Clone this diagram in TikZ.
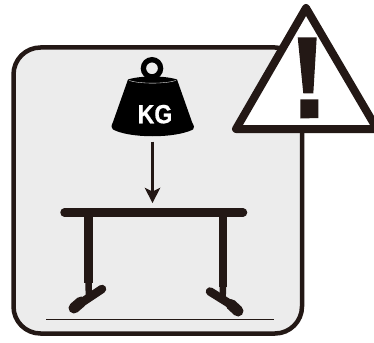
\documentclass[tikz,border=0pt]{standalone}
\usepackage{fontspec}
\setmainfont{Liberation Sans}
\newfontface\kgfont[FakeBold=0.7]{Liberation Sans Bold}
\definecolor{ink}{HTML}{231815}
\definecolor{panel}{HTML}{ECECEC}
\tikzset{
  panelbox/.style={draw=ink,fill=panel,line width=4.5pt,rounded corners=27pt},
  tablepart/.style={draw=ink,line cap=round,line width=8pt},
  legpart/.style={draw=ink,line width=8.5pt},
  warnbox/.style={draw=ink,fill=white,line width=8pt,line join=round},
  inkfill/.style={fill=ink,draw=none},
  weightlabel/.style={text=white,font=\kgfont\fontsize{22}{22}\selectfont,inner sep=0pt}
}
\begin{document}
\begin{tikzpicture}[x=1pt,y=-1pt]
\useasboundingbox (0,0) rectangle (374,342);
\clip (0,0) rectangle (374,342);
\fill[white] (0,0) rectangle (374,342);
\draw[panelbox] (13.5,47.5) rectangle (302,333.5);
% table
\draw[legpart] (88.5,212) -- (88.5,283);
\draw[legpart,line width=6.5pt] (88.5,283) -- (89,298);
\draw[legpart] (223,212) -- (223,287);
\draw[legpart,line width=6.5pt] (223,287) -- (222.5,301);
\draw[tablepart,line width=8.5pt] (64.5,212.5) -- (243,212.5);
\draw[tablepart,line width=8.5pt] (102,289) -- (78,305);
\draw[tablepart,line width=11pt] (81,302) -- (74,308);
\draw[tablepart,line width=8.5pt] (210,291.5) -- (234,306.5);
\draw[tablepart,line width=11pt] (231,304.5) -- (238,311);
\draw[ink,line width=1.5pt] (46,319.5) -- (274,319.5);
% arrow
\coordinate (arrowtop) at (152.5,141.5);
\coordinate (arrowend) at (152.5,197);
\draw[ink,line width=2.4pt] (arrowtop) -- (arrowend);
\fill[ink] (152.5,203) -- (144.5,187.5) -- (152.5,191.5) -- (160.5,187.5) -- cycle;
% weight
\draw[black,line width=5.3pt] (152,68.3) circle (8.6pt);
\fill[black] (128,79.5) .. controls (140,75.5) and (165,75.5) .. (177,79.5)
  -- (192,122) .. controls (194,126) and (195,128) .. (193,129.5)
  .. controls (175,138.5) and (130,138.5) .. (113,129.5)
  .. controls (111,128) and (111,126) .. (113,122) -- cycle;
\draw[white,line width=0.35pt] (129,80.5) .. controls (140,84) and (165,84) .. (176,80.5);
\node[weightlabel] (kg) at (155,114.2) {\scalebox{1.05}[1.2]{KG}};
% warning
\draw[warnbox] (306,8) -- (236,129) -- (377,129) -- cycle;
\fill[inkfill] (297.7,37.3) -- (316.7,37.3) -- (313.3,93.5) -- (303.3,93.5) -- cycle;
\fill[inkfill] (300.3,99.3) -- (318.3,99.3) -- (318.3,118) -- (300.3,118.5) -- cycle;
\end{tikzpicture}
\end{document}
